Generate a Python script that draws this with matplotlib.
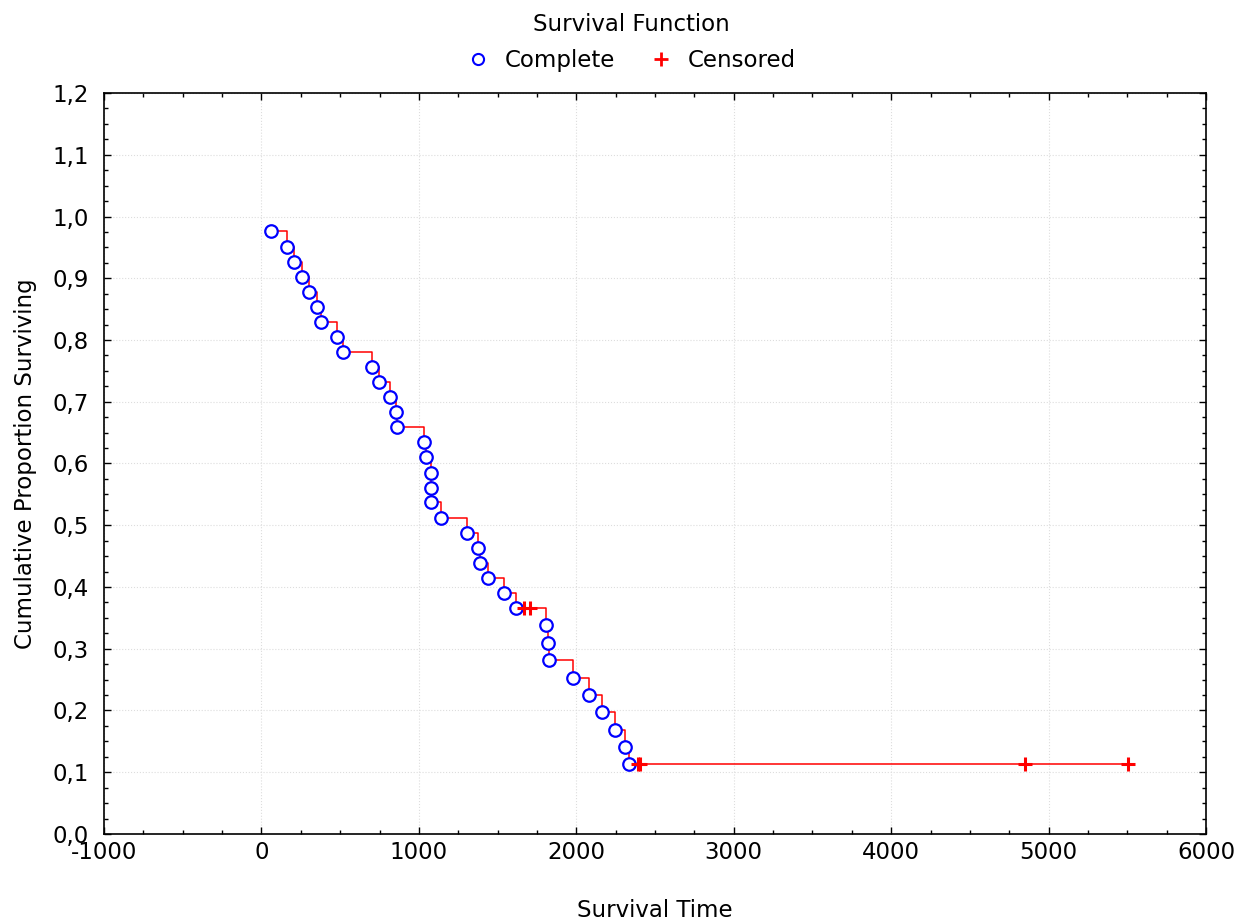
import matplotlib
matplotlib.use("Agg")
import matplotlib.pyplot as plt
from matplotlib.ticker import MultipleLocator, FuncFormatter
from matplotlib.lines import Line2D

plt.rcParams['font.family'] = ['DejaVu Sans']

# Complete (event) observations
complete_time = [60, 163, 210, 260, 304, 350, 377, 480, 518, 705, 749, 817, 857, 861,
                 1030, 1044, 1077, 1079, 1080, 1143, 1306, 1374, 1389, 1441, 1543, 1615,
                 1807, 1818, 1829, 1981, 2079, 2166, 2244, 2310, 2333]
complete_surv = [0.976, 0.951, 0.927, 0.902, 0.878, 0.854, 0.829, 0.805, 0.780, 0.756,
                 0.732, 0.707, 0.683, 0.659, 0.634, 0.610, 0.585, 0.561, 0.537, 0.512,
                 0.488, 0.463, 0.439, 0.415, 0.390, 0.366, 0.338, 0.310, 0.281, 0.253,
                 0.225, 0.197, 0.169, 0.141, 0.113]
# Censored observations
censored_time = [1668, 1706, 2389, 2406, 4848, 5505]
censored_surv = [0.366, 0.366, 0.113, 0.113, 0.113, 0.113]

xticks = [-1000, 0, 1000, 2000, 3000, 4000, 5000, 6000]
yticks = [0.0, 0.1, 0.2, 0.3, 0.4, 0.5, 0.6, 0.7, 0.8, 0.9, 1.0, 1.1, 1.2]

pts = sorted(zip(complete_time + censored_time, complete_surv + censored_surv))
line_t = [p[0] for p in pts]
line_s = [p[1] for p in pts]

FS = 16.5

fig = plt.figure(figsize=(12.5, 9.21), dpi=100)
ax = fig.add_axes([0.0832, 0.0945, 0.8816, 0.8045])

ax.step(line_t, line_s, where='post', color='red', lw=1.1, zorder=2)
ax.plot(complete_time, complete_surv, 'o', ms=9, mfc='white', mec='blue', mew=1.6,
        ls='none', zorder=3)
ax.plot(censored_time, censored_surv, '+', ms=10, mec='red', mew=2.2, ls='none', zorder=4)

ax.set_xlim(-1000, 6000)
ax.set_ylim(0.0, 1.2)
ax.set_xticks(xticks)
ax.set_yticks(yticks)
ax.xaxis.set_minor_locator(MultipleLocator(250))
ax.yaxis.set_minor_locator(MultipleLocator(0.025))
ax.yaxis.set_major_formatter(FuncFormatter(lambda v, p: f"{v:.1f}".replace('.', ',')))
ax.xaxis.set_major_formatter(FuncFormatter(lambda v, p: f"{int(round(v))}"))

ax.tick_params(which='both', direction='in', top=True, right=True, labelsize=FS,
               color='black')
ax.tick_params(axis='y', which='major', length=5, width=1.0, pad=11)
ax.tick_params(axis='x', which='major', length=5, width=1.0, pad=5)
ax.tick_params(which='minor', length=3, width=1.0)
for s in ax.spines.values():
    s.set_linewidth(1.2)
    s.set_color('black')

ax.grid(True, which='major', ls=':', color='#dddddd', lw=0.8)
ax.set_axisbelow(True)

ax.set_xlabel('Survival Time', fontsize=FS, labelpad=25)
ax.set_ylabel('Cumulative Proportion Surviving', fontsize=FS, labelpad=11)

handles = [Line2D([], [], marker='o', ls='none', ms=8, mfc='none', mec='blue', mew=1.5),
           Line2D([], [], marker='+', ls='none', ms=10, mec='red', mew=2.0)]
leg = fig.legend(handles, ['Complete', 'Censored'], title='Survival Function', ncol=2,
                 loc='upper center', bbox_to_anchor=(0.505, 1.003), frameon=False,
                 fontsize=FS, title_fontsize=FS, handlelength=1.0,
                 handletextpad=0.65, columnspacing=1.5, borderaxespad=0.3,
                 labelspacing=0.3)
leg._legend_box.sep = 9

fig.savefig('out.png', dpi=100)
